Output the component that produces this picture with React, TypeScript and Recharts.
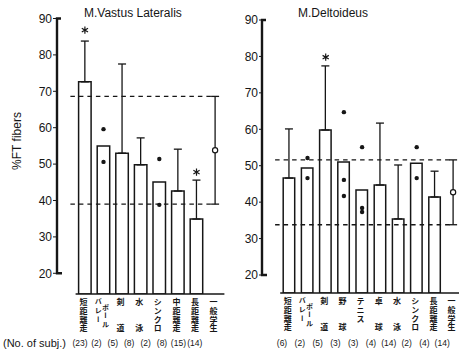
import React from "react";
import {
  ComposedChart,
  Bar,
  Scatter,
  ErrorBar,
  XAxis,
  YAxis,
  ReferenceLine,
  ReferenceArea,
} from "recharts";

const INK = "#161616";
const FONT = '"Liberation Sans", Arial, Helvetica, sans-serif';
const JP = '"Noto Sans CJK JP", "Noto Sans CJK SC", sans-serif';

const Y_TICKS = [20, 30, 40, 50, 60, 70, 80, 90];

// M.Vastus Lateralis
const VL_CATS = ["短距離走", "バレーボール", "剣道", "水泳", "シンクロ", "中距離走", "長距離走", "一般学生"];
const VL_MEAN = [72.6, 55.0, 53.0, 49.8, 45.1, 42.6, 34.9, null];
const VL_SD = [11.2, null, 24.5, 7.4, null, 11.5, 10.7, null];
const VL_POINTS = [[], [59.6, 50.6], [], [], [51.4, 38.8], [], [], []];
const VL_STAR = [86.8, null, null, null, null, null, 47.8, null];
const VL_N = [23, 2, 5, 8, 2, 8, 15, 14];
const VL_CTRL_MEAN = 53.8;
const VL_CTRL_SD = 14.8;

// M.Deltoideus
const DT_CATS = ["短距離走", "バレーボール", "剣道", "野球", "テニス", "卓球", "水泳", "シンクロ", "長距離走", "一般学生"];
const DT_MEAN = [46.6, 49.4, 59.8, 51.0, 43.3, 44.7, 35.4, 50.7, 41.4, null];
const DT_SD = [13.5, null, 17.6, null, null, 17.0, 14.8, null, 7.1, null];
const DT_POINTS = [[], [52.1, 46.6], [], [64.7, 46.1, 41.7], [55.1, 38.4, 37.3], [], [], [55.1, 46.6], [], []];
const DT_STAR = [null, null, 79.8, null, null, null, null, null, null, null];
const DT_N = [6, 2, 5, 3, 3, 4, 14, 2, 4, 14];
const DT_CTRL_MEAN = 42.7;
const DT_CTRL_SD = 8.9;

type Row = Record<string, any>;

// first slot is an empty band between the y axis and the first bar
function buildRows(
  cats: string[],
  mean: (number | null)[],
  sd: (number | null)[],
  points: number[][],
  star: (number | null)[],
  ctrlMean: number,
  ctrlSd: number,
): Row[] {
  const rows: Row[] = [{ name: "" }];
  cats.forEach((name, i) => {
    const last = i === cats.length - 1;
    const s = sd[i];
    rows.push({
      name,
      mean: mean[i],
      err: s ? [0, s] : null,
      p1: points[i][0] ?? null,
      p2: points[i][1] ?? null,
      p3: points[i][2] ?? null,
      star: star[i],
      ctrl: last ? ctrlMean : null,
      ctrlErr: last ? ctrlSd : null,
    });
  });
  return rows;
}

const has = (p: any, key: string) =>
  p && Number.isFinite(p.cx) && Number.isFinite(p.cy) && p.payload && p.payload[key] != null;

const dotShape = (key: string) => (p: any) =>
  has(p, key) ? <circle cx={p.cx} cy={p.cy} r={2.2} fill={INK} /> : <g />;

const openDot = (p: any) =>
  has(p, "ctrl") ? <circle cx={p.cx} cy={p.cy} r={2.6} fill="#fff" stroke={INK} strokeWidth={1.2} /> : <g />;

const starShape = (p: any) => {
  if (!has(p, "star")) return <g />;
  const r = 3.6;
  const c = r * Math.cos(Math.PI / 6);
  const s = r * Math.sin(Math.PI / 6);
  const { cx, cy } = p;
  return (
    <path
      d={`M${cx},${cy - r}V${cy + r}M${cx - c},${cy - s}L${cx + c},${cy + s}M${cx - c},${cy + s}L${cx + c},${cy - s}`}
      stroke={INK}
      strokeWidth={1.2}
      fill="none"
    />
  );
};

const spine = (p: any) => (
  <path
    d={`M${p.x + 4},${p.y}H${p.x}V${p.y + p.height}H${p.x + 5}`}
    fill="none"
    stroke={INK}
    strokeWidth={2.4}
  />
);

const baseline = (bands: number) => (p: any) => {
  const l = Math.min(p.x1, p.x2);
  const r = Math.max(p.x1, p.x2);
  const band = (r - l) / bands;
  return <line x1={l + band} x2={r} y1={p.y1} y2={p.y2} stroke={INK} strokeWidth={1.7} />;
};

const dashed = (bands: number) => (p: any) => {
  const l = Math.min(p.x1, p.x2);
  const r = Math.max(p.x1, p.x2);
  const band = (r - l) / bands;
  return (
    <line
      x1={l + band * 0.72}
      x2={r - band * 0.5}
      y1={p.y1}
      y2={p.y2}
      stroke={INK}
      strokeWidth={1.3}
      strokeDasharray="4.5 4"
    />
  );
};

// vertical label columns: offset across, rows down (in character cells), text
type Col = { dx: number; dy: number; text: string; size: number };

function layoutLabel(name: string): Col[] {
  if (name === "バレーボール") {
    return [
      { dx: -3.8, dy: 0, text: "バレー", size: 7 },
      { dx: 3.6, dy: 0.6, text: "ボール", size: 7 },
    ];
  }
  const chars = Array.from(name);
  if (chars.length === 2) return [{ dx: 0, dy: 0, text: `${chars[0]}\u3000\u3000${chars[1]}`, size: 8 }];
  return [{ dx: 0, dy: 0, text: name, size: 8 }];
}

function CatTick(props: any) {
  const { x, y, payload } = props;
  const name: string = payload?.value ?? "";
  if (!name) return <g />;
  const step = 8.7;
  return (
    <g>
      {layoutLabel(name).map((col, ci) => (
        <text
          key={ci}
          x={x - 1.5 + col.dx}
          y={y + 4.3 + col.dy * step}
          textAnchor="start"
          fontSize={col.size}
          fontWeight={700}
          fontFamily={JP}
          fill={INK}
          letterSpacing={step - col.size}
          style={{ writingMode: "vertical-rl" as any }}
        >
          {col.text}
        </text>
      ))}
    </g>
  );
}

interface PanelProps {
  rows: Row[];
  bands: number;
  yMin: number;
  width: number;
  margin: { top: number; right: number; bottom: number; left: number };
  yWidth: number;
  barSize: number;
  tickSize: number;
  tickMargin: number;
  ctrlMean: number;
  ctrlSd: number;
}

function Panel({ rows, bands, yMin, width, margin, yWidth, barSize, tickSize, tickMargin, ctrlMean, ctrlSd }: PanelProps) {
  return (
    <ComposedChart width={width} height={356} data={rows} margin={margin}>
      <XAxis
        dataKey="name"
        type="category"
        interval={0}
        axisLine={false}
        tickLine={false}
        tickSize={0}
        tickMargin={0}
        height={40}
        tick={(p: any) => <CatTick {...p} />}
      />
      <YAxis
        type="number"
        domain={[yMin, 90]}
        ticks={Y_TICKS}
        width={yWidth}
        axisLine={false}
        tickSize={tickSize}
        tickMargin={tickMargin}
        tickLine={{ stroke: INK, strokeWidth: 1 }}
        tick={{ fontSize: 12, fill: INK, fontFamily: FONT }}
        allowDataOverflow
      />
      <ReferenceArea y1={20} y2={90} ifOverflow="visible" shape={spine} />
      <ReferenceLine y={yMin} ifOverflow="visible" shape={baseline(bands)} />
      <Bar dataKey="mean" barSize={barSize} fill="#fff" stroke={INK} strokeWidth={1.5} isAnimationActive={false}>
        <ErrorBar dataKey="err" width={4} stroke={INK} strokeWidth={1.3} isAnimationActive={false} />
      </Bar>
      <ReferenceLine y={ctrlMean + ctrlSd} ifOverflow="visible" shape={dashed(bands)} />
      <ReferenceLine y={ctrlMean - ctrlSd} ifOverflow="visible" shape={dashed(bands)} />
      <Scatter dataKey="p1" shape={dotShape("p1")} isAnimationActive={false} />
      <Scatter dataKey="p2" shape={dotShape("p2")} isAnimationActive={false} />
      <Scatter dataKey="p3" shape={dotShape("p3")} isAnimationActive={false} />
      <Scatter dataKey="star" shape={starShape} isAnimationActive={false} />
      <Scatter dataKey="ctrl" shape={openDot} isAnimationActive={false}>
        <ErrorBar dataKey="ctrlErr" direction="y" width={4} stroke={INK} strokeWidth={1.3} isAnimationActive={false} />
      </Scatter>
    </ComposedChart>
  );
}

const abs = (left: number, top: number, extra: React.CSSProperties = {}): React.CSSProperties => ({
  position: "absolute",
  left,
  top,
  whiteSpace: "nowrap",
  ...extra,
});

export default function App() {
  const vlRows = buildRows(VL_CATS, VL_MEAN, VL_SD, VL_POINTS, VL_STAR, VL_CTRL_MEAN, VL_CTRL_SD);
  const dtRows = buildRows(DT_CATS, DT_MEAN, DT_SD, DT_POINTS, DT_STAR, DT_CTRL_MEAN, DT_CTRL_SD);

  return (
    <div
      style={{
        position: "fixed",
        left: 0,
        top: 0,
        width: 459,
        height: 356,
        overflow: "hidden",
        background: "#fff",
        fontFamily: FONT,
        color: INK,
      }}
    >
      <div style={abs(0, 0)}>
        <Panel
          rows={vlRows}
          bands={VL_CATS.length + 1}
          yMin={14.31}
          width={230}
          margin={{ top: 18.5, right: 5.6, bottom: 22, left: 17 }}
          yWidth={40}
          barSize={12.5}
          tickSize={4}
          tickMargin={1}
          ctrlMean={VL_CTRL_MEAN}
          ctrlSd={VL_CTRL_SD}
        />
      </div>
      <div style={abs(230, 0)}>
        <Panel
          rows={dtRows}
          bands={DT_CATS.length + 1}
          yMin={15.06}
          width={235}
          margin={{ top: 20, right: 2.8, bottom: 23, left: 2 }}
          yWidth={30}
          barSize={11.5}
          tickSize={3}
          tickMargin={1}
          ctrlMean={DT_CTRL_MEAN}
          ctrlSd={DT_CTRL_SD}
        />
      </div>

      <div style={abs(84, 6, { fontSize: 12, lineHeight: "14px" })}>M.Vastus Lateralis</div>
      <div style={abs(298, 6, { fontSize: 12, lineHeight: "14px" })}>M.Deltoideus</div>
      <div
        style={abs(17, 141, {
          fontSize: 12,
          lineHeight: "14px",
          transform: "translate(-50%, -50%) rotate(-90deg)",
        })}
      >
        %FT fibers
      </div>

      <div style={abs(3, 336, { fontSize: 11, lineHeight: "14px" })}>(No. of subj.)</div>
      {VL_N.map((n, i) => (
        <div key={`vl${i}`} style={abs(80 + i * 16.4 - 8, 337, { width: 16, textAlign: "center", fontSize: 8.5, lineHeight: "12px" })}>
          ({n})
        </div>
      ))}
      {DT_N.map((n, i) => (
        <div key={`dt${i}`} style={abs(282 + i * 17.8 - 8, 337, { width: 16, textAlign: "center", fontSize: 8.5, lineHeight: "12px" })}>
          ({n})
        </div>
      ))}
    </div>
  );
}
